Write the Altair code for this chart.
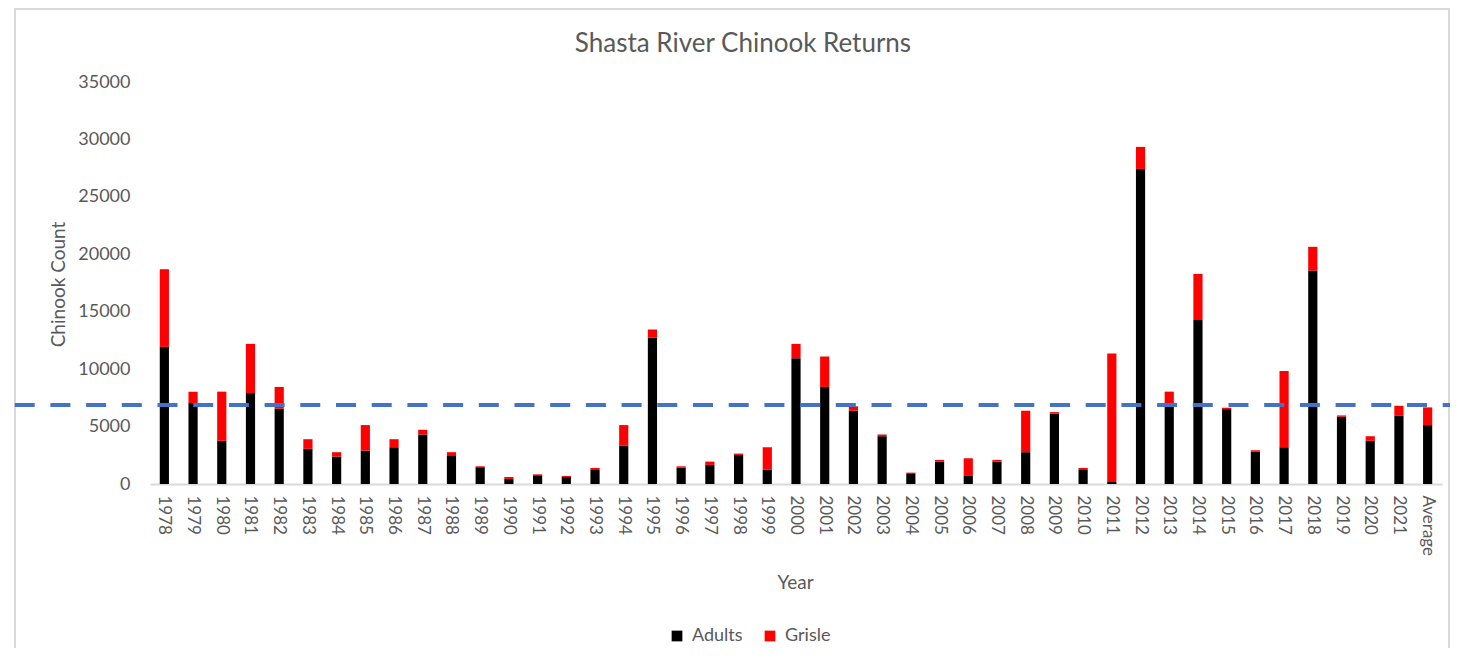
import altair as alt
import pandas as pd

# ---- data ----
years = ["1978", "1979", "1980", "1981", "1982", "1983", "1984", "1985", "1986", "1987",
         "1988", "1989", "1990", "1991", "1992", "1993", "1994", "1995", "1996", "1997",
         "1998", "1999", "2000", "2001", "2002", "2003", "2004", "2005", "2006", "2007",
         "2008", "2009", "2010", "2011", "2012", "2013", "2014", "2015", "2016", "2017",
         "2018", "2019", "2020", "2021", "Average"]
adults = [11940, 7050, 3760, 7920, 6550, 3060, 2390, 2910, 3200, 4310,
          2500, 1460, 440, 760, 610, 1280, 3350, 12760, 1430, 1660,
          2530, 1250, 10950, 8450, 6380, 4160, 870, 1950, 700, 1950,
          2770, 6120, 1280, 180, 27430, 6930, 14270, 6520, 2800, 3200,
          18580, 5850, 3760, 5970, 5130]
grisle = [6760, 990, 4280, 4280, 1900, 840, 380, 2220, 700, 410,
          270, 80, 170, 80, 90, 120, 1780, 690, 110, 290,
          120, 1950, 1250, 2650, 380, 150, 120, 150, 1540, 150,
          3610, 140, 120, 11180, 1920, 1110, 4020, 120, 140, 6640,
          2070, 120, 400, 840, 1540]
series_names = ["Adults", "Grisle"]
series_colors = ["#000000", "#FF0000"]
reference_line = [6870]
y_ticks = [0, 5000, 10000, 15000, 20000, 25000, 30000, 35000]
title_text = "Shasta River Chinook Returns"

rows = []
for i, yr in enumerate(years):
    rows.append({"Year": yr, "Type": "Adults", "Count": adults[i], "order": 0})
    rows.append({"Year": yr, "Type": "Grisle", "Count": grisle[i], "order": 1})
df = pd.DataFrame(rows)
ref_df = pd.DataFrame({"v": reference_line})
frame_df = pd.DataFrame({"k": [0]})

FONT = "Lato"
GRAY = "#595959"
W, H = 1292, 402

bars = alt.Chart(df).mark_bar().encode(
    x=alt.X("Year:N", sort=years,
            scale=alt.Scale(paddingInner=0.68, paddingOuter=0.34),
            axis=alt.Axis(title="Year", labelAngle=90, labelPadding=11, ticks=False,
                          domainColor="#D9D9D9", domainWidth=2,
                          labelColor=GRAY, labelFont=FONT, labelFontSize=17,
                          titleColor=GRAY, titleFont=FONT, titleFontSize=19,
                          titleFontWeight="normal", titleX=645, titleY=98,
                          titleBaseline="middle")),
    y=alt.Y("Count:Q", stack="zero",
            scale=alt.Scale(domain=[0, 35000], nice=False),
            axis=alt.Axis(title="Chinook Count", values=y_ticks, format="d",
                          grid=False, domain=False, ticks=False, labelPadding=20,
                          labelColor=GRAY, labelFont=FONT, labelFontSize=18,
                          titleColor=GRAY, titleFont=FONT, titleFontSize=19,
                          titleFontWeight="normal", titleX=-92, titleY=202,
                          titleAngle=-90, titleBaseline="middle")),
    color=alt.Color("Type:N", sort=series_names,
                    scale=alt.Scale(domain=series_names, range=series_colors),
                    legend=alt.Legend(title=None, orient="none", direction="horizontal",
                                      legendX=518, legendY=545, symbolType="square",
                                      symbolSize=115, symbolStrokeWidth=0,
                                      labelFont=FONT, labelFontSize=18, labelColor=GRAY,
                                      labelOffset=6, columnPadding=18, padding=0)),
    order=alt.Order("order:Q"),
)

rule = alt.Chart(ref_df).mark_rule(
    color="#4472C4", strokeWidth=4, strokeDash=[20, 15.7], strokeDashOffset=29
).encode(
    y=alt.Y("v:Q"),
    x=alt.value(-142), x2=alt.value(1300),
)

frame = alt.Chart(frame_df).mark_rect(
    fill="transparent", stroke="#D9D9D9", strokeWidth=2
).encode(
    x=alt.value(-135), x2=alt.value(1299), y=alt.value(-73), y2=alt.value(700),
)

chart = alt.layer(frame, bars, rule).properties(
    width=W, height=H,
    title=alt.TitleParams(title_text, font=FONT, fontSize=26, fontWeight="normal",
                          color=GRAY, anchor="middle", frame="group", dx=-53,
                          baseline="alphabetic", offset=-70),
    autosize=alt.AutoSizeParams(type="none"),
    padding={"left": 142, "top": 74, "right": 10, "bottom": 164},
).configure(background="white").configure_view(strokeWidth=0, stroke="transparent")

chart.save("out.html", embed_options={"renderer": "svg", "actions": False})
